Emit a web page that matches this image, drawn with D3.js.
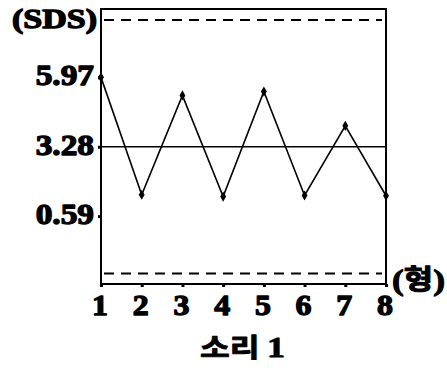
<!DOCTYPE html>
<html><head><meta charset="utf-8">
<script src="https://cdn.jsdelivr.net/npm/d3@7"></script>
<style>body{margin:0;background:#fff}svg{display:block}</style>
</head><body>
<svg id="c" width="447" height="370"></svg>
<script>
const categories = [1,2,3,4,5,6,7,8];
const values = [5.97,1.42,5.27,1.35,5.42,1.39,4.09,1.38];
const yTicks = [0.59,3.28,5.97];
const yTickLabels = ["0.59","3.28","5.97"];
const meanValue = 3.28;
const ucl = 8.19, lcl = -1.63;
const yDomain = [-2.04, 8.62];

const svg = d3.select("#c");
const x = d3.scaleLinear().domain([1,8]).range([101,386]);
const y = d3.scaleLinear().domain(yDomain).range([284,9]);
const serif = "Liberation Serif";
const kr = "Noto Sans CJK KR";

// frame
svg.append("rect").attr("x",x(1)).attr("y",y(yDomain[1])).attr("width",x(8)-x(1)).attr("height",y(yDomain[0])-y(yDomain[1]))
  .attr("fill","none").attr("stroke","#000").attr("stroke-width",2);

// control limits
[ucl,lcl].forEach(v=>{
  svg.append("line").attr("x1",x(1)+3).attr("x2",x(8)-4).attr("y1",y(v)).attr("y2",y(v))
    .attr("stroke","#000").attr("stroke-width",2).attr("stroke-dasharray","10,7");
});
// mean
svg.append("line").attr("x1",x(1)).attr("x2",x(8)).attr("y1",y(meanValue)).attr("y2",y(meanValue))
  .attr("stroke","#000").attr("stroke-width",1.5);

// axes ticks
const yAxis = d3.axisLeft(y).tickValues(yTicks).tickSize(3).tickFormat("");
const ga = svg.append("g").attr("transform",`translate(${x(1)},0)`).call(yAxis);
ga.select(".domain").remove();
ga.selectAll("line").attr("stroke-width",3);
const xAxis = d3.axisBottom(x).tickValues(categories).tickSize(3).tickFormat("");
const gx = svg.append("g").attr("transform",`translate(0,${y(yDomain[0])})`).call(xAxis);
gx.select(".domain").remove();
gx.selectAll("line").attr("stroke-width",3);

function heavy(sel, w){ return sel.attr("fill","#000").attr("stroke","#000").attr("stroke-width",w).attr("stroke-linejoin","round"); }

// y labels
yTicks.forEach((v,i)=>{
  heavy(svg.append("text").attr("transform",`translate(94,${y(v)+8}) scale(1.15,1)`)
    .attr("text-anchor","end").attr("font-family",serif).attr("font-weight","bold").attr("font-size",29)
    .text(yTickLabels[i]), 1.3);
});
// x labels
categories.forEach(c=>{
  heavy(svg.append("text").attr("transform",`translate(${x(c)-1},315) scale(1.1,1)`)
    .attr("text-anchor","middle").attr("font-family",serif).attr("font-weight","bold").attr("font-size",29)
    .text(c), 1.3);
});

// data line
const line = d3.line().x((d,i)=>x(categories[i])).y(d=>y(d));
svg.append("path").datum(values).attr("d",line).attr("fill","none").attr("stroke","#000").attr("stroke-width",1.6);
svg.selectAll(".pt").data(values).enter().append("path")
  .attr("transform",(d,i)=>`translate(${x(categories[i])},${y(d)})`)
  .attr("d",d3.symbol().type(d3.symbolDiamond).size(30)).attr("fill","#000");

// titles
heavy(svg.append("text").attr("x",12).attr("y",28).attr("font-family",serif).attr("font-weight","bold").attr("font-size",27)
  .attr("textLength",85).attr("lengthAdjust","spacingAndGlyphs").text("(SDS)"), 1.3);
const t2 = heavy(svg.append("text").attr("x",392).attr("y",290).attr("font-weight","bold").attr("font-size",30)
  .attr("textLength",53).attr("lengthAdjust","spacingAndGlyphs"), 1);
t2.append("tspan").attr("font-family",serif).text("(");
t2.append("tspan").attr("font-family",kr).attr("font-size",27).attr("dy",-1).text("형");
t2.append("tspan").attr("font-family",serif).attr("dy",1).text(")");
const t = heavy(svg.append("text").attr("x",200).attr("y",357).attr("font-weight","bold").attr("font-size",26)
  .attr("textLength",85).attr("lengthAdjust","spacingAndGlyphs"), 0.8);
t.append("tspan").attr("font-family",kr).text("소리 ");
t.append("tspan").attr("font-family",serif).attr("font-size",29).text("1");
</script>
</body></html>
